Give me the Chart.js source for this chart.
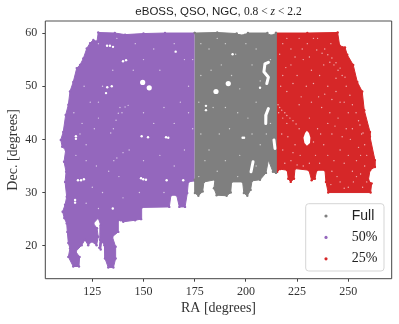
<!DOCTYPE html>
<html>
<head>
<meta charset="utf-8">
<title>eBOSS QSO NGC</title>
<script src="https://cdn.jsdelivr.net/npm/chart.js@4"></script>
<style>
  html, body { margin: 0; padding: 0; background: #fff; }
  canvas { display: block; }
</style>
</head>
<body>
<canvas id="footprint" width="399" height="324"></canvas>
<script>
const raTicks = [125, 150, 175, 200, 225, 250];
const decTicks = [20, 30, 40, 50, 60];

// footprint outlines, [RA, Dec]
const fullOutline = [
  [175, 60], [186, 60.1], [195.5, 59.9], [197, 59.6], [199.6, 59.7], [201, 60], [210.5, 60], [211.5, 59.6], [214, 59.7], [214.7, 60],
  [214.7, 33.7], [213.2, 33.9], [211, 36.1], [209.8, 33.7], [206.9, 32.4], [203, 32.2], [202.3, 30.5],
  [200.7, 29.4], [199, 29.9], [198.4, 32], [193, 32], [192.6, 30], [190.6, 29.4], [185.7, 29.5],
  [184.4, 30.8], [184.9, 32.4], [179.5, 32], [178.9, 30.2], [176.8, 29.4], [175.1, 29.9], [175, 32.4]
];
const halfOutline = [
  [175, 60], [160.5, 60], [150, 59.9], [141, 59.7], [136, 60], [127.9, 60.1], [127.3, 58.4], [125.5, 58.7], [123.9, 58.1], [122.3, 57.1],
  [120.6, 55.2], [119, 54], [117.4, 53.4], [115.7, 50.8], [114.1, 49], [113.3, 46.5], [112, 44.6],
  [110.8, 41.4], [109.6, 39.9], [110.3, 38.6], [112, 38], [111.2, 35.8], [112.2, 33.9], [111.7, 32],
  [112.5, 29.2], [111.7, 27.7], [110.5, 26.4], [111.3, 25.2], [112.5, 24.2], [112.8, 22.6], [113.3, 20.5],
  [114.1, 19.5], [113.3, 17.9], [115.7, 16.1], [118.5, 16.1], [118.8, 17.9], [116.9, 18.9], [119.8, 20.1],
  [121.4, 21.1], [123, 20.1], [124.7, 20.8], [127.1, 20.1], [127.9, 21.7], [127.3, 23.3], [125.5, 24.2],
  [127.9, 25.2], [129.1, 23.9], [128.8, 21.1], [128.4, 19.6], [129.1, 19.3], [129.6, 20.8], [130.9, 20.1],
  [131.2, 17.6], [132.8, 15.9], [135.3, 15.9], [136.4, 17.6], [136.4, 19.8], [134.8, 21.7], [137.7, 22.6],
  [137.7, 24.8], [138.9, 24.8], [140.1, 24.5], [145.9, 24.8], [148.8, 25], [149.1, 27.2], [162.6, 27.3],
  [163.4, 29.5], [166.2, 29.5], [167.5, 27.3], [170.3, 27.3], [171.4, 29.9], [171.9, 32], [175, 32.2]
];
const quarterOutline = [
  [214.7, 60], [230, 60], [244.8, 60.1], [245.8, 57.6], [248.4, 57.3], [249.5, 55.9], [252.4, 54], [254.4, 50.8],
  [256.8, 49], [257.8, 45.5], [260.6, 41.4], [260.6, 40.5], [263, 36.1], [263, 34.8], [260.6, 34.2],
  [259.8, 32.3], [261.4, 31.7], [260.9, 30], [240.2, 30], [239.1, 32], [238.6, 34.2], [234.6, 34.2],
  [233.7, 32.6], [232.1, 32.3], [230.8, 34.2], [224, 34.5], [223.5, 32.6], [221.9, 32], [220.7, 32.6],
  [220.2, 34.2], [216.6, 34.4], [215.3, 33.9], [214.5, 33.9]
];

// empty patches inside the footprint
const quarterHole = [
  [228.1, 40.3], [228.9, 41.2], [229.8, 41.6], [230.8, 41.2], [231.5, 40.3], [231.3, 39.3], [229.8, 38.8], [228.6, 39.3]
];
const streakS = [[211, 54.5], [209.3, 54.2], [208.8, 52.7], [211, 51.7], [210.2, 50.5]];
const streakMid = [[211, 45.8], [209.8, 44.6], [209.7, 43]];
const streakEdge = [[213.7, 39.9], [214.2, 38.3]];
const streakLow = [[203.5, 35.8], [202.5, 33.9]];

const gapsBig = [[191.4, 50.5], [185.4, 49], [149.6, 50.7], [152.8, 49.7]];
const gapsMid = [
  [199.1, 40.3], [198.4, 40.3], [180.5, 46.3], [180.5, 45.5], [206.9, 49.7], [193.5, 56],
  [117, 40.1], [117, 40.6], [133.6, 57.6], [132.2, 57.6], [135.1, 57.4], [119.5, 32.3], [118, 32.3],
  [120.9, 32.5], [149.9, 32.5], [148.8, 32.7], [151.2, 32.4], [161.3, 32.3], [169.4, 32.3], [116.6, 28.1],
  [116.6, 28.6], [135, 27], [162.1, 40.3], [161, 40.4], [149.1, 40.6], [152.2, 40.4], [165.7, 56.5],
  [141.5, 54.9], [140, 54.7], [132.3, 49.8], [134.5, 50], [131.7, 48.7]
];
const gapsSmall = [
  // 50% area
  [118, 54], [121, 50], [124, 47], [128, 44], [120, 43], [117, 37], [122, 36], [127, 35], [133, 34], [116, 45],
  [119, 41], [122, 39], [126, 42], [141, 46.1], [142.5, 46.4], [139.5, 45], [137.7, 44.9], [136.6, 43.6],
  [135.3, 42], [138.5, 46], [134, 41.2], [135.5, 36], [137, 36.5], [140, 37.5], [128, 58], [137, 59], [146, 58],
  [155, 57], [165, 58], [170, 55], [172, 50], [168, 47], [158, 53], [150, 55], [145, 53], [135, 53], [130, 50],
  [128, 47], [150, 45], [155, 43], [160, 46], [165, 43], [172, 45], [170, 38], [165, 35], [158, 37], [150, 36],
  [143, 38], [138, 33], [130, 30], [125, 31], [122, 28], [128, 27], [140, 29], [148, 30], [160, 30], [174, 42], [174, 55],
  // full area
  [178, 58], [182, 57], [186, 59], [190, 58], [195, 56], [200, 58], [205, 57], [212, 55], [178, 52], [183, 53],
  [188, 54], [193, 52], [197, 49.5], [203, 54], [207, 51], [177, 47], [184, 46], [190, 46], [196, 45], [201, 44],
  [205, 47], [212, 43], [178, 41], [182, 38], [187, 41], [192, 42], [197, 37], [203, 41], [207, 39], [180, 36],
  [186, 34], [190, 36], [196, 33], [205, 35], [210, 41], [177, 33],
  // 25% area
  [215.7, 46.5], [216.5, 46], [217.5, 45.5], [219, 45], [220, 44.5], [221.5, 44], [223, 43.5], [224.5, 42.9],
  [226, 42], [216, 45], [218, 44], [220, 43], [234.6, 56.8], [237.2, 56.2], [238.5, 57], [240, 55.9], [241, 54.5],
  [242, 55.3], [243, 54], [244, 54.4], [245, 53], [246, 53.4], [247, 52], [248.4, 51.7], [249, 50], [250.8, 48.3],
  [252, 46.5], [253.8, 45], [255, 43.5], [255.7, 42.7], [256.5, 41], [257.2, 41.2], [258, 39], [259, 37],
  [218, 58], [222, 57], [226, 59], [230, 58], [233, 59], [228, 55], [222, 54], [218, 52], [225, 52], [232, 53],
  [236, 52], [240, 50], [244, 49], [248, 47], [252, 42], [220, 49], [227, 48], [232, 47], [237, 46], [241, 45],
  [245, 44], [249, 42], [224, 39], [218, 38], [222, 36], [228, 35], [234, 37], [238, 39], [242, 41], [246, 38],
  [250, 37], [254, 36], [258, 35], [242, 34], [246, 32], [250, 31], [254, 33], [257, 31], [243, 36], [235, 42], [231, 44],
  [216.5, 56], [220, 59], [224, 55.5], [227.5, 57], [231, 55.5], [235, 59], [238, 54], [241.5, 58], [244, 51.5],
  [217, 50], [219.5, 53.5], [223, 50.5], [226, 46.5], [229.5, 50], [233, 50.5], [235.5, 48], [238.5, 48.5], [242, 47.5],
  [246, 47], [250, 45], [217.5, 41], [220.5, 40.5], [223, 37.5], [226.5, 37], [233, 39.5], [236.5, 41], [240, 43],
  [243.5, 42.5], [247, 40.5], [251, 40], [255, 38.5], [219, 35.5], [225, 35.2], [231, 35.5], [236, 35.5], [240, 37],
  [248, 35.5], [252, 34], [256, 37], [244.5, 33], [248, 30.8], [252.5, 32], [256, 33.5], [259, 32], [241.5, 31.5]
];

const FULL = "#7f7f7f", HALF = "#9467bd", QUARTER = "#d62728";
const SERIF = '"Liberation Serif", serif';
const SANS = '"Liberation Sans", sans-serif';

const legendRows = [
  { label: "Full", color: FULL, font: SANS },
  { label: "50%", color: HALF, font: SERIF },
  { label: "25%", color: QUARTER, font: SERIF }
];
const titleParts = [
  { text: "eBOSS, QSO, NGC, ", font: "11.5px " + SANS },
  { text: "0.8 < ", font: "11.5px " + SERIF },
  { text: "z", font: "italic 11.5px " + SERIF },
  { text: " < 2.2", font: "11.5px " + SERIF }
];

const toXY = pts => pts.map(p => ({ x: p[0], y: p[1] }));

const region = (label, pts, color) => ({
  label, data: toXY(pts), showLine: true, fill: "shape", tension: 0, order: 2,
  backgroundColor: color, borderColor: color, borderWidth: 1, borderJoinStyle: "round",
  pointRadius: 1.2, pointBackgroundColor: color, pointBorderWidth: 0
});
const streak = pts => ({
  data: toXY(pts), showLine: true, tension: 0, order: 1, borderColor: "#fff", borderWidth: 3,
  borderCapStyle: "round", borderJoinStyle: "round", pointRadius: 0
});
const gaps = (pts, radius, color) => ({
  data: toXY(pts), order: 0, pointRadius: radius, pointBackgroundColor: color, pointBorderWidth: 0
});

const frameAndText = {
  id: "frameAndText",
  afterDraw(chart) {
    const { ctx, chartArea: a } = chart;
    ctx.save();
    // spines
    ctx.strokeStyle = "#8a8a8a";
    ctx.lineWidth = 1.6;
    ctx.beginPath(); ctx.moveTo(a.left, a.top); ctx.lineTo(a.right, a.top); ctx.stroke();
    ctx.strokeStyle = "#444";
    ctx.lineWidth = 1;
    ctx.beginPath();
    ctx.moveTo(a.left, a.top); ctx.lineTo(a.left, a.bottom); ctx.lineTo(a.right, a.bottom); ctx.lineTo(a.right, a.top);
    ctx.stroke();

    // title, sans part then math part
    ctx.fillStyle = "#222";
    ctx.textBaseline = "alphabetic";
    ctx.textAlign = "left";
    let width = 0;
    titleParts.forEach(p => { ctx.font = p.font; width += ctx.measureText(p.text).width; });
    let x = (a.left + a.right) / 2 - width / 2;
    titleParts.forEach(p => { ctx.font = p.font; ctx.fillText(p.text, x, 15); x += ctx.measureText(p.text).width; });

    // legend box
    const bx = 305.7, by = 203.7, bw = 78.3, bh = 67.3;
    ctx.beginPath();
    ctx.roundRect(bx, by, bw, bh, 3);
    ctx.fillStyle = "rgba(255,255,255,0.8)";
    ctx.fill();
    ctx.strokeStyle = "#d5d5d5";
    ctx.lineWidth = 1;
    ctx.stroke();
    legendRows.forEach((row, i) => {
      const y = 216 + i * 21.4;
      ctx.beginPath();
      ctx.arc(326, y, 1.6, 0, Math.PI * 2);
      ctx.fillStyle = row.color;
      ctx.fill();
      ctx.fillStyle = "#222";
      ctx.font = "14px " + row.font;
      ctx.textBaseline = "middle";
      ctx.fillText(row.label, 351.7, y);
    });
    ctx.restore();
  }
};

const axisBits = {
  border: { display: false },
  grid: { drawOnChartArea: false, drawTicks: true, tickLength: 3, color: "#444", lineWidth: 1 }
};

new Chart(document.getElementById("footprint"), {
  type: "scatter",
  data: {
    datasets: [
      region("Full", fullOutline, FULL),
      region("50%", halfOutline, HALF),
      region("25%", quarterOutline, QUARTER),
      { data: toXY(quarterHole), showLine: true, fill: "shape", order: 1, backgroundColor: "#fff", borderWidth: 0, pointRadius: 0 },
      streak(streakS), streak(streakMid), streak(streakEdge), streak(streakLow),
      gaps(gapsBig, 2.6, "#fff"),
      gaps(gapsMid, 1.2, "#fff"),
      gaps(gapsSmall, 0.7, "rgba(255,255,255,0.65)")
    ]
  },
  options: {
    responsive: false,
    animation: false,
    layout: { padding: { top: 21, right: 7.3, left: 0, bottom: 0 } },
    plugins: { legend: { display: false }, title: { display: false }, tooltip: { enabled: false } },
    scales: {
      x: {
        ...axisBits,
        type: "linear",
        min: 102.05,
        max: 271.2,
        afterBuildTicks: s => { s.ticks = raTicks.map(v => ({ value: v })); },
        afterFit: s => { s.height = 45.3; },
        ticks: { color: "#333", font: { family: SERIF, size: 12 }, padding: 3, maxRotation: 0 },
        title: { display: true, text: "RA [degrees]", color: "#333", font: { family: SERIF, size: 14 }, padding: { top: 0, bottom: 7 } }
      },
      y: {
        ...axisBits,
        min: 13.8,
        max: 62.26,
        afterBuildTicks: s => { s.ticks = decTicks.map(v => ({ value: v })); },
        afterFit: s => { s.width = 45.3; },
        ticks: { color: "#333", font: { family: SERIF, size: 12 }, padding: 5 },
        title: { display: true, text: "Dec. [degrees]", color: "#333", font: { family: SERIF, size: 14 }, padding: { top: 5, bottom: 0 } }
      }
    }
  },
  plugins: [frameAndText]
});
</script>
</body>
</html>
